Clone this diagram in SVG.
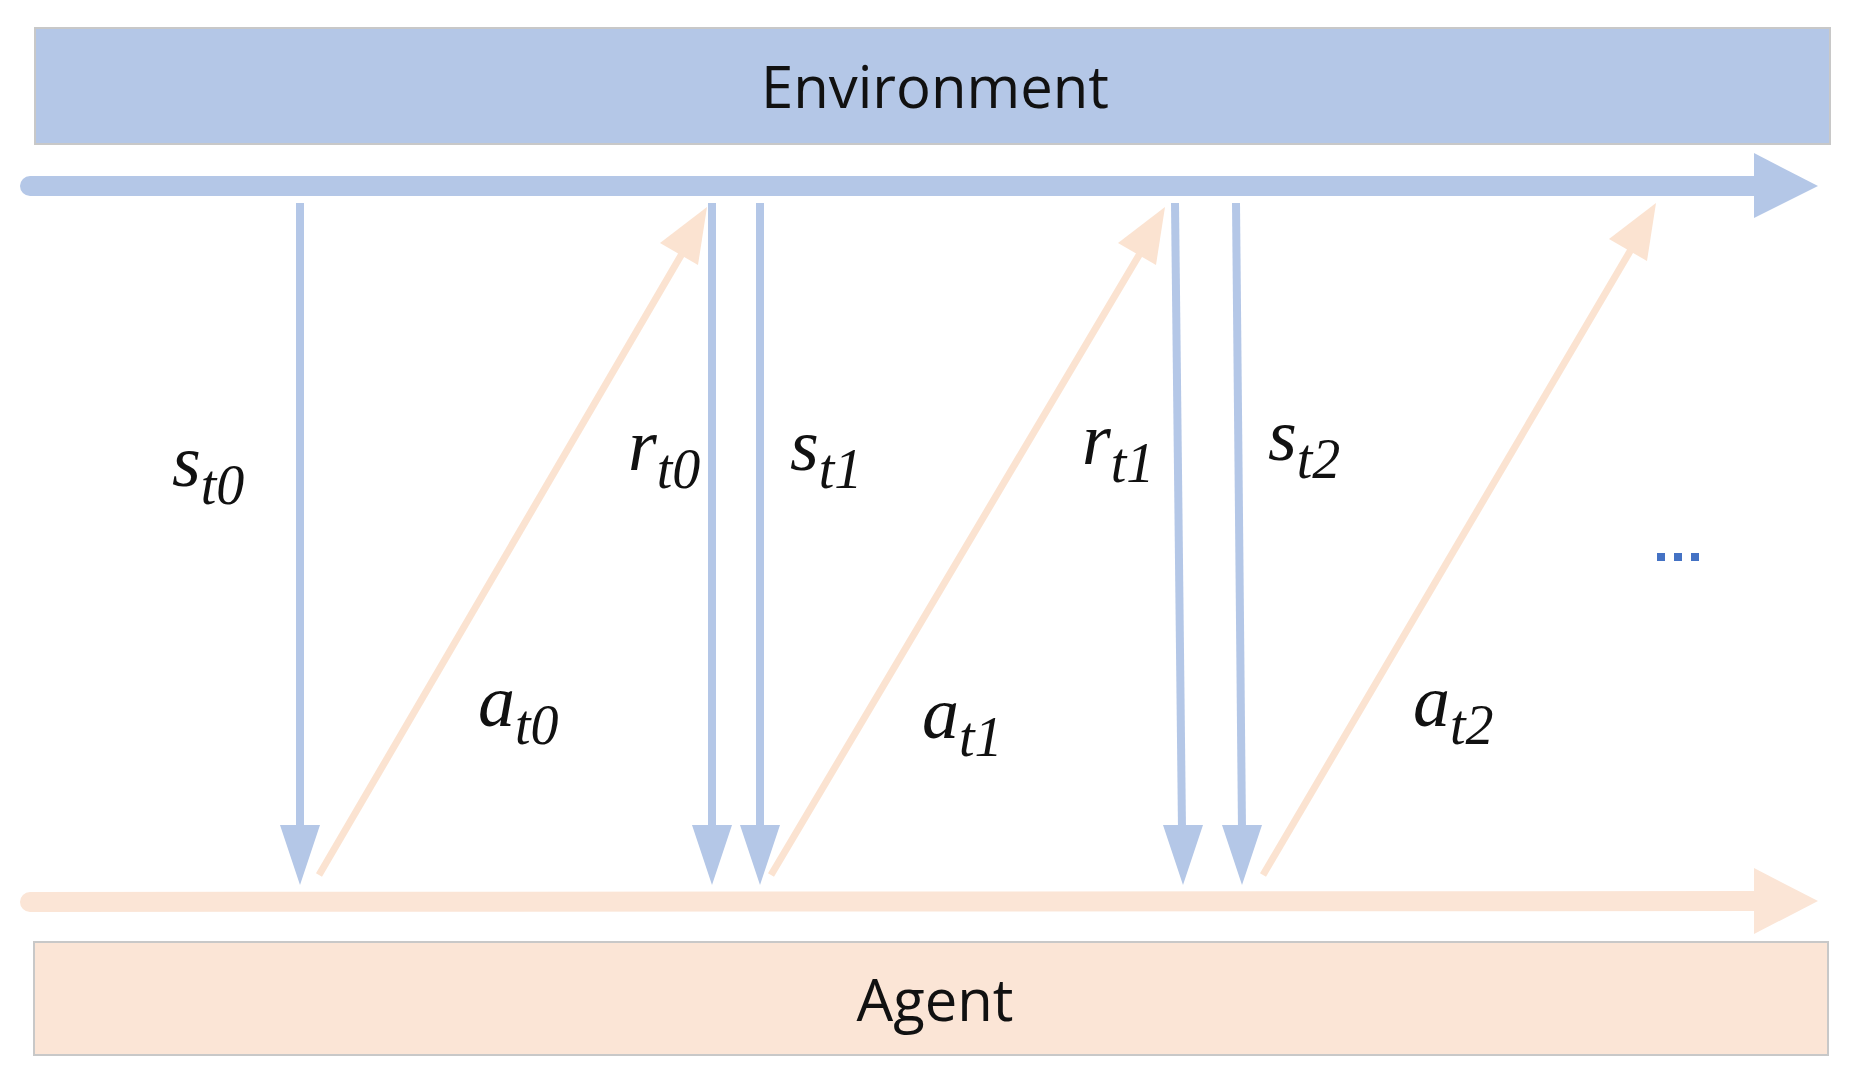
<svg xmlns="http://www.w3.org/2000/svg" width="1855" height="1088" viewBox="0 0 1855 1088">
<style>
.lbl{font-family:"Liberation Serif","DejaVu Serif",serif;font-style:italic;font-size:74px;fill:#111}
.sub{font-size:56px}
.box{font-family:"Open Sans","Liberation Sans",sans-serif;font-size:58px;fill:#111;text-anchor:middle}
.b{stroke:#b4c7e7;stroke-width:8;fill:none}
.o{stroke:#fbe3d1;stroke-width:7;fill:none}
</style>
<rect width="1855" height="1088" fill="#fff"/>
<g id="environment"><rect x="35" y="28" width="1795" height="116" fill="#b4c7e7" stroke="#c8c8c8" stroke-width="2"/><text class="box" x="935" y="108">Environment</text></g>
<g id="agent"><rect x="34" y="942" width="1794" height="113" fill="#fbe5d6" stroke="#c8c8c8" stroke-width="2"/><text class="box" x="935" y="1021">Agent</text></g>
<g id="connectors">
<line x1="30" y1="186" x2="1760" y2="186" stroke="#b4c7e7" stroke-width="20" stroke-linecap="round"/>
<polygon points="1754,153 1818,186 1754,218" fill="#b4c7e7"/>
<line x1="30" y1="902" x2="1760" y2="901" stroke="#fbe5d6" stroke-width="20" stroke-linecap="round"/>
<polygon points="1754,868 1818,901 1754,934" fill="#fbe5d6"/>
<line class="b" x1="300" y1="203" x2="300" y2="830"/><polygon points="280,825 320,825 300,885" fill="#b4c7e7"/>
<line class="b" x1="712" y1="203" x2="712" y2="830"/><polygon points="692,825 732,825 712,885" fill="#b4c7e7"/>
<line class="b" x1="760" y1="203" x2="760" y2="830"/><polygon points="740,825 780,825 760,885" fill="#b4c7e7"/>
<line class="b" x1="1175" y1="203" x2="1182" y2="830"/><polygon points="1163,825 1203,825 1183,885" fill="#b4c7e7"/>
<line class="b" x1="1236" y1="203" x2="1242" y2="830"/><polygon points="1222,825 1262,825 1242,885" fill="#b4c7e7"/>
<line class="o" x1="319" y1="875" x2="690" y2="240"/><polygon points="707,207 698,265 660,243" fill="#fbe3d1"/>
<line class="o" x1="771" y1="875" x2="1148" y2="240"/><polygon points="1165,207 1156,265 1118,243" fill="#fbe3d1"/>
<line class="o" x1="1263" y1="875" x2="1639" y2="236"/><polygon points="1656,203 1647,261 1609,239" fill="#fbe3d1"/>
</g>
<g id="labels">
<text class="lbl" x="172" y="486">s<tspan class="sub" dy="18">t0</tspan></text>
<text class="lbl" x="628" y="470">r<tspan class="sub" dy="18">t0</tspan></text>
<text class="lbl" x="790" y="470">s<tspan class="sub" dy="18">t1</tspan></text>
<text class="lbl" x="1082" y="464">r<tspan class="sub" dy="18">t1</tspan></text>
<text class="lbl" x="1268" y="460">s<tspan class="sub" dy="18">t2</tspan></text>
<text class="lbl" x="478" y="726">a<tspan class="sub" dy="18">t0</tspan></text>
<text class="lbl" x="922" y="738">a<tspan class="sub" dy="18">t1</tspan></text>
<text class="lbl" x="1413" y="726">a<tspan class="sub" dy="18">t2</tspan></text>
<g fill="#4472c4"><rect x="1657" y="553" width="8" height="8"/><rect x="1674" y="553" width="8" height="8"/><rect x="1691" y="553" width="8" height="8"/></g>
</g>
</svg>
